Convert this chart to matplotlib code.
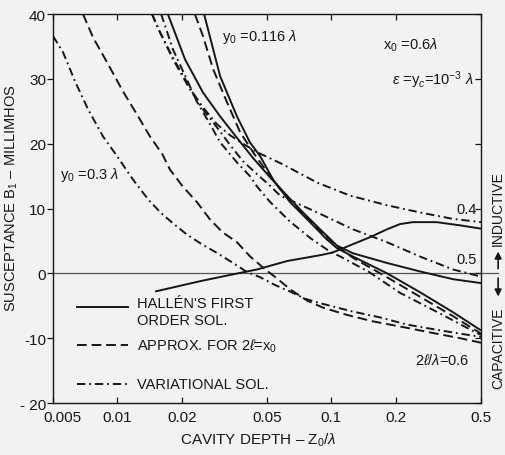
import matplotlib as mpl
mpl.use('Agg')
import matplotlib.pyplot as plt
from matplotlib.ticker import FixedLocator, NullLocator, FixedFormatter
from matplotlib.transforms import ScaledTranslation

plt.rcParams['font.family'] = ['Liberation Sans', 'DejaVu Sans']
plt.rcParams['mathtext.fontset'] = 'custom'
plt.rcParams['mathtext.rm'] = 'Liberation Sans'
plt.rcParams['mathtext.it'] = 'Liberation Sans:italic'
plt.rcParams['lines.scale_dashes'] = False

INK = '#161616'
PAPER = '#f2f2f2'
SOLID = '-'
DASHED = (0, (7, 3.5))
DASHDOT = (0, (6, 2.8, 1.3, 2.8))

# y0 = 0.3 lambda family
var_y03_z = [0.005, 0.00557, 0.00634, 0.00729, 0.00857, 0.00995, 0.0118, 0.0140, 0.0160, 0.0182,
             0.0211, 0.0245, 0.0290, 0.0347, 0.0403, 0.0465, 0.0545, 0.064, 0.075, 0.0885,
             0.126, 0.169, 0.225, 0.298, 0.399, 0.5]
var_y03_b = [36.6, 34.1, 29.6, 25.3, 21.1, 18.1, 14.5, 11.3, 9.3, 7.7,
             6.0, 4.6, 3.2, 1.6, 0.2, -0.6, -1.8, -2.8, -3.9, -4.6,
             -5.9, -6.8, -7.9, -8.6, -9.3, -9.8]

approx_y03_z = [0.0069, 0.00769, 0.00903, 0.0106, 0.0125, 0.0142, 0.0162, 0.0176, 0.0202, 0.0235,
                0.0271, 0.0311, 0.0362, 0.0417, 0.0479, 0.0557, 0.065, 0.077, 0.0915, 0.118,
                0.156, 0.225, 0.298, 0.399, 0.5]
approx_y03_b = [40, 36.4, 32.3, 28.1, 24.2, 21.1, 18.4, 16.0, 13.4, 11.0,
                8.3, 6.3, 4.8, 2.6, 0.9, -0.8, -2.6, -4.2, -5.3, -6.4,
                -7.4, -8.4, -9.2, -10.0, -10.7]

# y0 = 0.116 lambda family, 2l/lambda = 0.4, 0.5, 0.6
hallen_04_z = [0.015, 0.0244, 0.0347, 0.0449, 0.062, 0.0885, 0.101, 0.11, 0.126, 0.152,
               0.182, 0.209, 0.24, 0.31, 0.40, 0.5]
hallen_04_b = [-2.8, -1.2, -0.15, 0.6, 1.9, 2.8, 3.2, 3.7, 4.5, 5.6,
               6.8, 7.6, 7.9, 7.9, 7.4, 6.9]

hallen_05_z = [0.0172, 0.0207, 0.0251, 0.0302, 0.0362, 0.0430, 0.0517, 0.062, 0.0736, 0.0885,
               0.106, 0.126, 0.182, 0.259, 0.37, 0.5]
hallen_05_b = [40, 33.0, 27.9, 24.2, 20.9, 17.8, 14.8, 12.0, 9.4, 6.8,
               4.3, 3.1, 1.6, 0.3, -0.9, -1.5]

hallen_06_z = [0.0254, 0.0302, 0.0362, 0.0416, 0.0464, 0.0533, 0.064, 0.0794, 0.0954, 0.106,
               0.126, 0.182, 0.259, 0.37, 0.5]
hallen_06_b = [40, 30.4, 24.2, 20.2, 18.1, 14.5, 11.0, 7.9, 5.2, 3.9,
               2.6, 0.0, -2.9, -6.0, -8.8]

approx_06_z = [0.0230, 0.0251, 0.0280, 0.0325, 0.0374, 0.0430, 0.0479, 0.0575, 0.070, 0.0857,
               0.106, 0.126, 0.182, 0.259, 0.37, 0.5]
approx_06_b = [40, 36.6, 31.5, 26.4, 21.8, 18.7, 16.5, 13.0, 10.0, 7.0,
               4.2, 2.4, -0.6, -3.6, -6.6, -9.3]

var_04_z = [0.0145, 0.0158, 0.0182, 0.0207, 0.0226, 0.0251, 0.0292, 0.0336, 0.0386, 0.0449,
            0.0594, 0.0857, 0.122, 0.182, 0.259, 0.37, 0.5]
var_04_b = [40, 37.2, 33.2, 30.0, 27.8, 25.6, 23.0, 21.3, 20.0, 18.7,
            16.8, 14.0, 12.0, 10.5, 9.4, 8.4, 7.9]

var_05_z = [0.0145, 0.0158, 0.0182, 0.0218, 0.0251, 0.0292, 0.0336, 0.0386, 0.0449, 0.0517,
            0.0575, 0.0857, 0.126, 0.182, 0.259, 0.37, 0.5]
var_05_b = [40, 37.2, 33.0, 28.4, 25.3, 22.5, 19.8, 17.3, 15.3, 13.5,
            12.0, 9.4, 6.8, 4.8, 2.6, 0.6, -0.5]

var_06_z = [0.0160, 0.0182, 0.0207, 0.0235, 0.0271, 0.0302, 0.0362, 0.0416, 0.0449, 0.0517,
            0.064, 0.080, 0.098, 0.11, 0.151, 0.209, 0.322, 0.459, 0.5]
var_06_b = [40, 34.5, 30.5, 26.5, 23.0, 20.2, 17.1, 15.0, 13.4, 11.0,
            8.0, 5.4, 3.4, 2.6, 0.15, -3.0, -6.2, -8.9, -9.5]

x_ticks = [0.005, 0.01, 0.02, 0.05, 0.1, 0.2, 0.5]
x_tick_labels = ['0.005', '0.01', '0.02', '0.05', '0.1', '0.2', '0.5']
y_ticks = [-20, -10, 0, 10, 20, 30, 40]
y_tick_labels = ['- 20', '-10', '0', '10', '20', '30', '40']

curves = [
    (var_y03_z, var_y03_b, DASHDOT),
    (approx_y03_z, approx_y03_b, DASHED),
    (hallen_04_z, hallen_04_b, SOLID),
    (hallen_05_z, hallen_05_b, SOLID),
    (hallen_06_z, hallen_06_b, SOLID),
    (approx_06_z, approx_06_b, DASHED),
    (var_04_z, var_04_b, DASHDOT),
    (var_05_z, var_05_b, DASHDOT),
    (var_06_z, var_06_b, DASHDOT),
]

fig = plt.figure(figsize=(5.05, 4.56), dpi=100, facecolor=PAPER)
ax = fig.add_axes([0.105, 0.114, 0.8475, 0.853], facecolor=PAPER)

for z, b, ls in curves:
    ax.plot(z, b, color=INK, lw=1.4, linestyle=ls, solid_capstyle='butt', dash_capstyle='butt')

ax.set_xscale('log')
ax.set_xlim(0.005, 0.5)
ax.set_ylim(-20, 40)

ax.xaxis.set_major_locator(FixedLocator(x_ticks))
ax.xaxis.set_major_formatter(FixedFormatter(x_tick_labels))
ax.xaxis.set_minor_locator(NullLocator())
ax.yaxis.set_major_locator(FixedLocator(y_ticks))
ax.yaxis.set_major_formatter(FixedFormatter(y_tick_labels))
ax.yaxis.set_minor_locator(NullLocator())

ax.tick_params(axis='x', which='major', direction='in', top=True, length=4, width=0.9,
               labelsize=11, pad=5, colors=INK)
ax.tick_params(axis='y', which='major', direction='out', length=4, width=0.9,
               labelsize=11, pad=1, colors=INK)
ax.tick_params(axis='y', which='major', right=True)
for t in ax.yaxis.get_major_ticks():
    t.tick2line.set_marker(mpl.lines.TICKLEFT)
for sp in ax.spines.values():
    sp.set_linewidth(1.0)
    sp.set_color(INK)

# shift first x label right, as in the original
lab0 = ax.get_xticklabels()[0]
lab0.set_transform(lab0.get_transform() + ScaledTranslation(9 / 100, 0, fig.dpi_scale_trans))

ax.set_xlabel(r'CAVITY DEPTH – Z$_0$/$\lambda$', fontsize=11, color=INK)
ax.xaxis.set_label_coords(0.48, -0.07)
ax.set_ylabel(r'SUSCEPTANCE B$_1$ – MILLIMHOS', fontsize=10.5, color=INK,
              family=['Liberation Sans Narrow', 'Liberation Sans', 'DejaVu Sans'])
ax.yaxis.set_label_coords(-0.078, 0.53)

# zero line running out to the right, with inductive/capacitive arrows
ax.axhline(0, xmin=0, xmax=1.04, color='#555555', lw=0.9, clip_on=False, zorder=1)
ytr = ax.get_yaxis_transform()
ax.annotate('', xy=(1.04, 3.8), xytext=(1.04, 0.3), xycoords=ytr, textcoords=ytr,
            arrowprops=dict(arrowstyle='-|>', color=INK, lw=1.2, mutation_scale=10), annotation_clip=False)
ax.annotate('', xy=(1.04, -4.0), xytext=(1.04, -0.3), xycoords=ytr, textcoords=ytr,
            arrowprops=dict(arrowstyle='-|>', color=INK, lw=1.2, mutation_scale=10), annotation_clip=False)
ax.text(1.04, 10.2, 'INDUCTIVE', transform=ytr, rotation=90, ha='center', va='center',
        fontsize=10, color=INK, clip_on=False)
ax.text(1.04, -11.4, 'CAPACITIVE', transform=ytr, rotation=90, ha='center', va='center',
        fontsize=10, color=INK, clip_on=False)

# annotations
ax.text(0.0308, 36.6, r'y$_0$ =0.116 $\lambda$', fontsize=10.5, color=INK, va='center')
ax.text(0.174, 35.3, r'x$_0$ =0.6$\lambda$', fontsize=10.5, color=INK, va='center')
ax.text(0.192, 29.9, r'$\epsilon$ =y$_c$=10$^{-3}$ $\lambda$', fontsize=10.5, color=INK, va='center')
ax.text(0.00539, 15.3, r'y$_0$ =0.3 $\lambda$', fontsize=10.5, color=INK, va='center')
ax.text(0.43, 9.9, '0.4', fontsize=10.5, color=INK, ha='center', va='center')
ax.text(0.43, 2.2, '0.5', fontsize=10.5, color=INK, ha='center', va='center')
ax.text(0.329, -13.3, r'2$\ell$/$\lambda$=0.6', fontsize=10.5, color=INK, ha='center', va='center')

# legend drawn by hand
leg = [(0.247, SOLID, "HALLÉN'S FIRST\nORDER SOL."),
       (0.149, DASHED, r'APPROX. FOR 2$\ell$=x$_0$'),
       (0.049, DASHDOT, 'VARIATIONAL SOL.')]
for yy, ls, txt in leg:
    ax.plot([0.056, 0.175], [yy, yy], transform=ax.transAxes, color=INK, lw=1.4, linestyle=ls)
    va = 'top' if '\n' in txt else 'center'
    ty = yy + 0.028 if '\n' in txt else yy
    ax.text(0.196, ty, txt, transform=ax.transAxes, fontsize=10.5, color=INK, va=va,
            linespacing=1.25)

fig.savefig('out.png', dpi=100, facecolor=PAPER)
